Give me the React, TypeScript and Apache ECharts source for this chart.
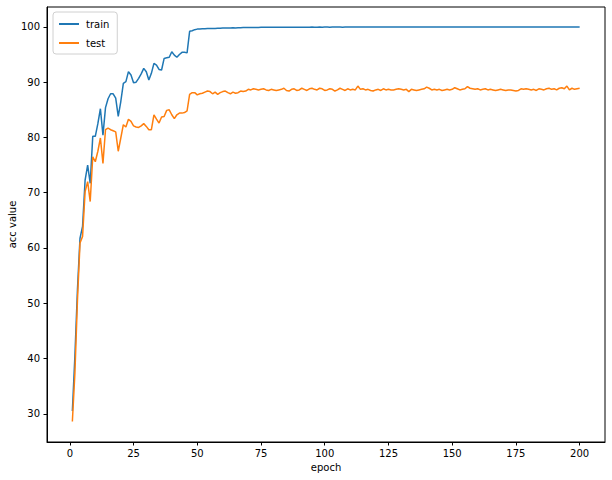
import React, { useEffect, useRef } from "react";
import * as echarts from "echarts";

const trainAcc: number[] = [
  30.5, 40.5, 52.5, 61.8, 63.9, 72.3, 75.0, 71.7, 80.2, 80.2,
  82.5, 85.2, 80.4, 85.4, 87.0, 87.9, 87.9, 87.1, 83.8, 86.5,
  89.8, 90.1, 91.9, 91.3, 89.9, 90.0, 90.7, 91.5, 92.5, 91.9,
  90.4, 91.6, 93.4, 93.1, 92.3, 92.2, 94.3, 94.4, 94.5, 95.5,
  94.9, 94.5, 95.0, 95.4, 95.4, 95.3, 99.2, 99.3, 99.5, 99.6,
  99.62, 99.65, 99.68, 99.7, 99.7, 99.71, 99.72, 99.74, 99.75, 99.78,
  99.8, 99.81, 99.82, 99.84, 99.82, 99.84, 99.86, 99.87, 99.88, 99.89,
  99.9, 99.9, 99.91, 99.91, 99.92, 99.92, 99.92, 99.93, 99.93, 99.93,
  99.94, 99.93, 99.94, 99.94, 99.94, 99.95, 99.94, 99.95, 99.95, 99.95,
  99.95, 99.94, 99.95, 99.95, 99.96, 99.95, 99.95, 99.96, 99.95, 99.96,
  99.96, 99.95, 99.96, 99.96, 99.96, 99.96, 99.95, 99.96, 99.96, 99.96,
  99.96, 99.96, 99.96, 99.96, 99.97, 99.96, 99.96, 99.96, 99.97, 99.96,
  99.96, 99.96, 99.97, 99.96, 99.96, 99.97, 99.96, 99.96, 99.96, 99.97,
  99.96, 99.96, 99.97, 99.96, 99.96, 99.97, 99.96, 99.96, 99.97, 99.96,
  99.96, 99.96, 99.97, 99.96, 99.96, 99.96, 99.97, 99.96, 99.96, 99.96,
  99.96, 99.97, 99.96, 99.96, 99.96, 99.96, 99.97, 99.96, 99.96, 99.96,
  99.96, 99.96, 99.97, 99.96, 99.96, 99.96, 99.96, 99.97, 99.96, 99.96,
  99.96, 99.96, 99.96, 99.97, 99.96, 99.96, 99.96, 99.96, 99.96, 99.97,
  99.96, 99.96, 99.96, 99.96, 99.97, 99.96, 99.96, 99.96, 99.96, 99.96,
  99.97, 99.96, 99.96, 99.96, 99.96, 99.96, 99.97, 99.96, 99.96, 99.96,
];

const testAcc: number[] = [
  28.6, 37.4, 50.6, 60.9, 62.1, 70.2, 72.0, 68.4, 76.5, 75.6,
  77.5, 79.9, 75.3, 81.4, 81.7, 81.4, 81.2, 81.0, 77.5, 79.9,
  82.3, 81.9, 83.3, 82.9, 82.1, 81.9, 81.8, 82.1, 82.5, 82.0,
  81.4, 81.4, 84.1, 83.3, 82.6, 83.7, 83.8, 84.9, 85.0, 84.1,
  83.4, 84.1, 84.4, 84.4, 84.5, 84.8, 87.8, 88.1, 88.1, 87.7,
  87.9, 88.0, 88.2, 88.4, 88.3, 87.9, 88.2, 87.8, 88.1, 88.3,
  88.4, 88.1, 87.9, 88.2, 88.0, 88.1, 88.4, 88.3, 88.4, 88.7,
  88.6, 88.8, 88.7, 88.6, 88.7, 88.8, 88.6, 88.5, 88.7, 88.6,
  88.5, 88.6, 88.7, 88.9, 88.5, 88.4, 88.7, 88.8, 88.5, 88.6,
  88.9, 88.7, 88.5, 88.8, 88.9, 88.7, 88.6, 88.9, 88.8, 88.5,
  88.6, 88.8, 88.7, 88.4, 88.6, 88.9, 88.7, 88.5, 88.8, 88.6,
  88.7, 88.6, 89.3, 88.7, 88.8, 88.6, 88.7, 88.5, 88.4, 88.6,
  88.7, 88.5, 88.8, 88.6, 88.7, 88.6, 88.6, 88.7, 88.8, 88.7,
  88.6, 88.7, 88.3, 88.7, 88.6, 88.5, 88.6, 88.7, 88.8, 89.1,
  88.9, 88.6, 88.7, 88.6, 88.7, 88.5, 88.6, 88.7, 88.6, 88.7,
  89.0, 88.8, 88.6, 88.7, 88.8, 89.2, 88.9, 88.8, 88.7, 88.8,
  88.6, 88.7, 88.8, 88.6, 88.7, 88.6, 88.5, 88.6, 88.7, 88.6,
  88.5, 88.6, 88.6, 88.5, 88.4, 88.5, 88.8, 88.7, 88.8, 88.7,
  88.6, 88.7, 88.5, 88.8, 88.7, 88.6, 88.8, 88.9, 88.7, 88.8,
  88.6, 88.9, 89.0, 88.8, 89.3, 88.6, 88.9, 88.7, 88.8, 88.9,
];

const xTicks = [0, 25, 50, 75, 100, 125, 150, 175, 200];
const yTicks = [30, 40, 50, 60, 70, 80, 90, 100];

const FONT = "DejaVu Sans";

export default function App() {
  const ref = useRef<HTMLDivElement>(null);
  useEffect(() => {
    if (!ref.current) return;
    const chart = echarts.init(ref.current, undefined, { renderer: "svg" });
    const trainData = trainAcc.map((v, i) => [i + 1, v]);
    const testData = testAcc.map((v, i) => [i + 1, v]);
    chart.setOption({
      animation: false,
      backgroundColor: "#ffffff",
      textStyle: { fontFamily: FONT },
      grid: {
        left: 47,
        top: 7,
        width: 558,
        height: 435,
        containLabel: false,
        outerBoundsMode: "none",
        show: true,
        borderColor: "#000",
        borderWidth: 1,
        backgroundColor: "transparent",
      },
      legend: {
        left: 53,
        top: 12,
        orient: "vertical",
        icon: "rect",
        itemWidth: 20,
        itemHeight: 2,
        itemGap: 9,
        padding: [7, 8, 6, 6],
        borderColor: "#d0d0d0",
        borderWidth: 1,
        borderRadius: 3,
        backgroundColor: "rgba(255,255,255,0.8)",
        textStyle: { fontFamily: FONT, fontSize: 10, color: "#000", padding: [0, 0, 0, 2] },
        data: ["train", "test"],
      },
      xAxis: {
        type: "value",
        min: -8.95,
        max: 209.95,
        name: "epoch",
        nameLocation: "middle",
        nameGap: 20,
        nameMoveOverlap: false,
        nameTextStyle: { fontFamily: FONT, fontSize: 10, color: "#000" },
        axisLine: { show: true, onZero: false, lineStyle: { color: "#000", width: 1 } },
        axisTick: { show: true, length: 3.5, customValues: xTicks, lineStyle: { color: "#000" } },
        axisLabel: { customValues: xTicks, fontFamily: FONT, fontSize: 10, color: "#000", margin: 6 },
        splitLine: { show: false },
      },
      yAxis: {
        type: "value",
        min: 24.9,
        max: 103.6,
        name: "acc value",
        nameLocation: "middle",
        nameGap: 30,
        nameMoveOverlap: false,
        nameTextStyle: { fontFamily: FONT, fontSize: 10, color: "#000" },
        axisLine: { show: true, onZero: false, lineStyle: { color: "#000", width: 1 } },
        axisTick: { show: true, length: 3.5, customValues: yTicks, lineStyle: { color: "#000" } },
        axisLabel: { customValues: yTicks, fontFamily: FONT, fontSize: 10, color: "#000", margin: 7 },
        splitLine: { show: false },
      },
      series: [
        {
          name: "train",
          type: "line",
          data: trainData,
          showSymbol: false,
          symbol: "none",
          color: "#1f77b4",
          lineStyle: { color: "#1f77b4", width: 1.5 },
        },
        {
          name: "test",
          type: "line",
          data: testData,
          showSymbol: false,
          symbol: "none",
          color: "#ff7f0e",
          lineStyle: { color: "#ff7f0e", width: 1.5 },
        },
      ],
    });
    return () => chart.dispose();
  }, []);
  return <div ref={ref} style={{ width: 612, height: 480, position: "fixed", left: 0, top: 0 }} />;
}
